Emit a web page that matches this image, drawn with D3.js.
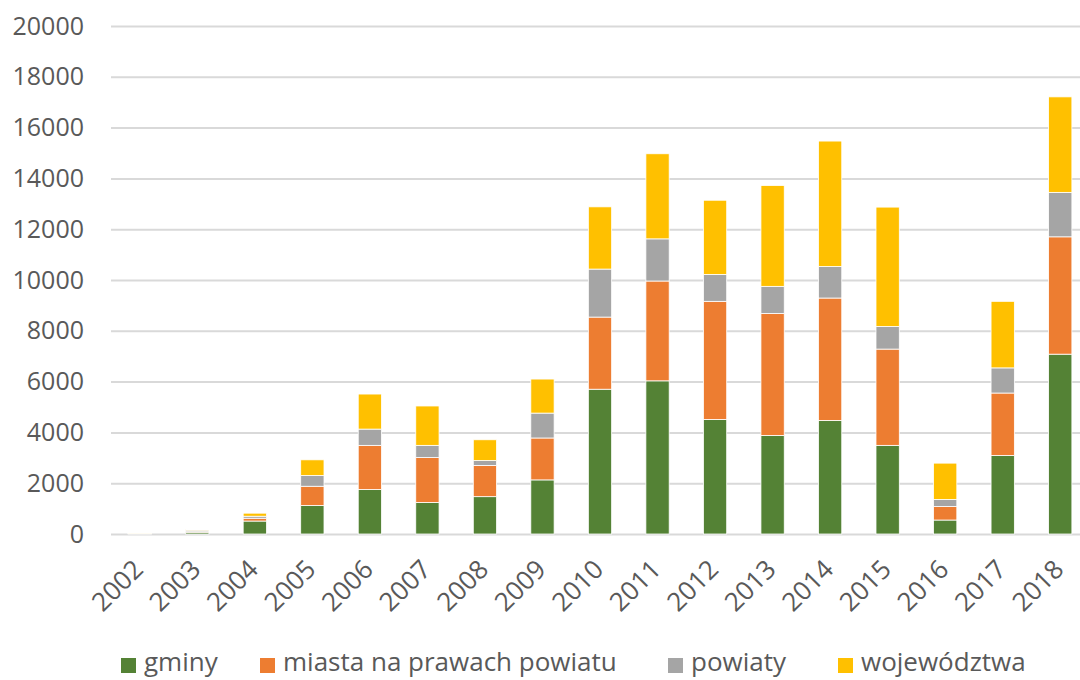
<!DOCTYPE html>
<html><head><meta charset="utf-8">
<script src="https://cdn.jsdelivr.net/npm/d3@7"></script>
<style>body{margin:0;background:#fff;}svg{display:block;font-family:"Open Sans",sans-serif;}</style>
</head><body><svg id="c" width="1080" height="680"></svg>
<script>
const years = ["2002","2003","2004","2005","2006","2007","2008","2009","2010","2011","2012","2013","2014","2015","2016","2017","2018"];
const seriesNames = ["gminy","miasta na prawach powiatu","powiaty","województwa"];
const gminy   = [10, 70, 510, 1120, 1750, 1240, 1470, 2130, 5700, 6030, 4510, 3880, 4470, 3490, 550, 3090, 7080];
const miasta  = [5, 20, 110, 760, 1740, 1770, 1230, 1650, 2840, 3930, 4650, 4800, 4820, 3790, 530, 2460, 4620];
const powiaty = [5, 60, 80, 420, 640, 480, 190, 980, 1890, 1660, 1060, 1070, 1240, 890, 280, 990, 1750];
const wojew   = [10, 30, 120, 620, 1380, 1550, 820, 1340, 2450, 3350, 2920, 3970, 4940, 4700, 1430, 2620, 3760];
const yTicks = [0,2000,4000,6000,8000,10000,12000,14000,16000,18000,20000];
const colors = ["#548235","#ED7D31","#A5A5A5","#FFC000"];

const svg = d3.select("#c");
const x = d3.scaleBand().domain(years).range([111, 1089]).paddingInner(0.595).paddingOuter(0.2975);
const y = d3.scaleLinear().domain([0,20000]).range([534, 26]);

const rows = years.map((yr,i)=>({year:yr, "gminy":gminy[i], "miasta na prawach powiatu":miasta[i], "powiaty":powiaty[i], "województwa":wojew[i]}));
const stacked = d3.stack().keys(seriesNames)(rows);

// gridlines
const gy = svg.append("g").attr("transform","translate(111,0)")
  .call(d3.axisLeft(y).tickValues(yTicks).tickSize(-980).tickFormat(""));
gy.select(".domain").remove();
gy.selectAll(".tick line").attr("stroke","#D9D9D9").attr("stroke-width",2);

// y labels
const yl = svg.append("g").attr("transform","translate(84,0)")
  .call(d3.axisLeft(y).tickValues(yTicks).tickSize(0).tickPadding(0).tickFormat(d3.format("d")));
yl.select(".domain").remove();
yl.selectAll("text").attr("font-size",25).attr("fill","#595959").attr("font-family","Open Sans, sans-serif");

// bars
svg.append("g").selectAll("g").data(stacked).join("g")
  .attr("fill",(d,i)=>colors[i])
  .selectAll("rect").data(d=>d).join("rect")
  .attr("x",d=>x(d.data.year)).attr("width",x.bandwidth())
  .attr("y",d=>y(d[1])).attr("height",d=>Math.max(0,y(d[0])-y(d[1])))
  .attr("stroke","#fff").attr("stroke-width",0.8);

// x labels
const xa = svg.append("g").attr("transform","translate(0,534)")
  .call(d3.axisBottom(x).tickSize(0).tickPadding(0));
xa.select(".domain").remove();
xa.selectAll("text").attr("font-size",26).attr("fill","#595959").attr("font-family","Open Sans, sans-serif")
  .attr("text-anchor","end").attr("dy",0).attr("y",0).attr("transform","translate(5,37) rotate(-45)");

// legend
const legX = [121, 260, 668, 838];
const lg = svg.append("g").selectAll("g").data(seriesNames).join("g")
  .attr("transform",(d,i)=>`translate(${legX[i]},0)`);
lg.append("rect").attr("x",0).attr("y",658).attr("width",15).attr("height",15).attr("fill",(d,i)=>colors[i]);
lg.append("text").attr("x",23).attr("y",671).attr("font-size",26).attr("fill","#595959").text(d=>d);
</script></body></html>
